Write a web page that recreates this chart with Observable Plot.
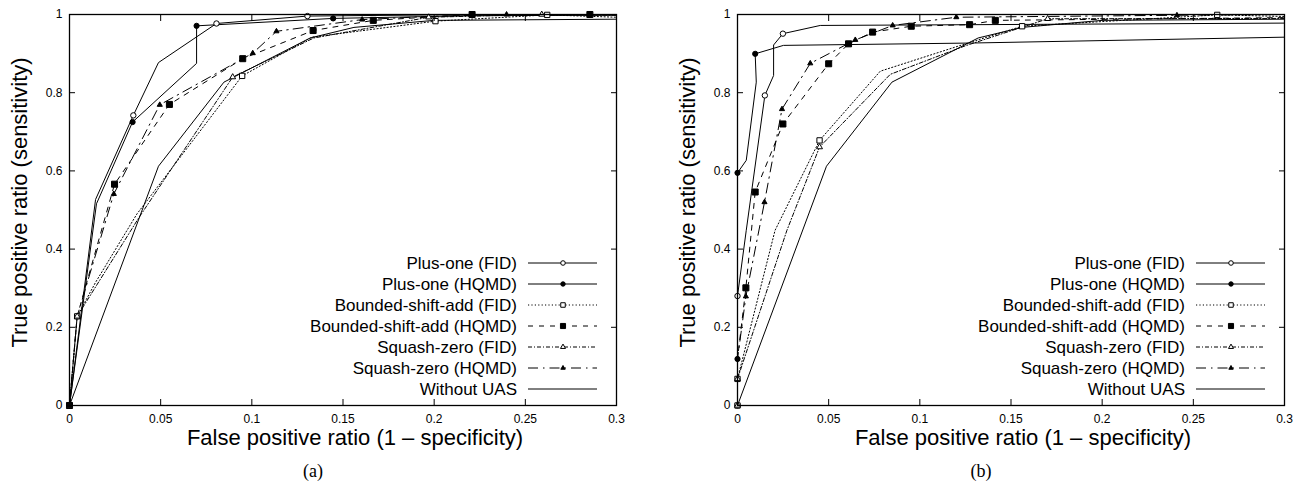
<!DOCTYPE html>
<html>
<head>
<meta charset="utf-8">
<script src="https://cdn.jsdelivr.net/npm/d3@7"></script>
<script src="https://cdn.jsdelivr.net/npm/@observablehq/plot@0.6"></script>
<style>
  body { margin: 0; background: #fff; }
  #wrap { display: flex; width: 1306px; height: 484px; overflow: hidden; }
  #wrap svg { display: block; }
</style>
</head>
<body>
<div id="wrap"></div>
<script>
// ---------- tick labels & text ----------
const xTicks = [0, 0.05, 0.1, 0.15, 0.2, 0.25, 0.3];
const xTickLabels = ["0", "0.05", "0.1", "0.15", "0.2", "0.25", "0.3"];
const yTicks = [0, 0.2, 0.4, 0.6, 0.8, 1];
const yTickLabels = ["0", "0.2", "0.4", "0.6", "0.8", "1"];
const xLabel = "False positive ratio (1 – specificity)";
const yLabel = "True positive ratio (sensitivity)";
const panelLabels = ["(a)", "(b)"];
const seriesNames = ["Plus-one (FID)", "Plus-one (HQMD)", "Bounded-shift-add (FID)",
  "Bounded-shift-add (HQMD)", "Squash-zero (FID)", "Squash-zero (HQMD)", "Without UAS"];

// ---------- baseline (same in both panels) ----------
const withoutUAS = [[0,0],[0.0488,0.612],[0.0847,0.827],[0.132,0.940],[0.156,0.967],[0.2,0.985],[0.3,0.988]];

// ---------- panel (a) ----------
const aPlusOneFIDLine = [[0,0],[0.0143,0.527],[0.035,0.742],[0.0488,0.877],[0.0806,0.977],[0.1305,0.996],[0.2,0.999],[0.3,1.0]];
const aPlusOneFIDPts  = [[0,0],[0.035,0.742],[0.0806,0.977],[0.1305,0.996]];
const aPlusOneHQMDLine = [[0,0],[0.0148,0.516],[0.0346,0.725],[0.0697,0.875],[0.0697,0.971],[0.1446,0.990],[0.22,0.997],[0.3,0.998]];
const aPlusOneHQMDPts  = [[0,0],[0.0346,0.725],[0.0697,0.971],[0.1446,0.990]];
const aBoundedFIDLine = [[0,0],[0.0042,0.228],[0.0143,0.315],[0.037,0.49],[0.0947,0.843],[0.133,0.942],[0.2007,0.983],[0.262,0.999],[0.3,0.993]];
const aBoundedFIDPts  = [[0,0],[0.0042,0.228],[0.0947,0.843],[0.2007,0.983],[0.262,0.999]];
const aBoundedHQMDLine = [[0,0],[0.0042,0.228],[0.0247,0.566],[0.0548,0.770],[0.095,0.887],[0.1336,0.959],[0.1666,0.985],[0.2208,1.0],[0.2854,1.0],[0.3,1.0]];
const aBoundedHQMDPts  = [[0,0],[0.0247,0.566],[0.0548,0.770],[0.095,0.887],[0.1336,0.959],[0.1666,0.985],[0.2208,1.0],[0.2854,1.0]];
const aSquashFIDLine = [[0,0],[0.0042,0.228],[0.0148,0.307],[0.038,0.48],[0.0895,0.84],[0.134,0.94],[0.197,0.993],[0.259,1.0],[0.3,0.998]];
const aSquashFIDPts  = [[0,0],[0.0042,0.228],[0.0895,0.84],[0.197,0.993],[0.259,1.0]];
const aSquashHQMDLine = [[0,0],[0.0042,0.228],[0.0243,0.541],[0.0495,0.769],[0.1005,0.901],[0.1135,0.957],[0.1605,0.987],[0.197,0.995],[0.2397,1.0],[0.3,1.0]];
const aSquashHQMDPts  = [[0,0],[0.0243,0.541],[0.0495,0.769],[0.1005,0.901],[0.1135,0.957],[0.1605,0.987],[0.2397,1.0]];

// ---------- panel (b) ----------
const bPlusOneFIDLine = [[0,0],[0,0.28],[0.0048,0.448],[0.015,0.793],[0.0198,0.844],[0.0198,0.922],[0.0249,0.951],[0.0454,0.972],[0.3,0.978]];
const bPlusOneFIDPts  = [[0,0],[0,0.28],[0.015,0.793],[0.0249,0.951]];
const bPlusOneHQMDLine = [[0,0],[0,0.119],[0,0.595],[0.0048,0.627],[0.0103,0.827],[0.0097,0.8995],[0.0252,0.921],[0.128,0.927],[0.3,0.942]];
const bPlusOneHQMDPts  = [[0,0.119],[0,0.595],[0.0097,0.8995]];
const bBoundedFIDLine = [[0,0],[0,0.068],[0.0206,0.448],[0.045,0.678],[0.0783,0.855],[0.125,0.925],[0.1561,0.970],[0.2631,0.999],[0.3,0.995]];
const bBoundedFIDPts  = [[0,0],[0,0.068],[0.045,0.678],[0.1561,0.970],[0.2631,0.999]];
const bBoundedHQMDLine = [[0,0],[0,0.119],[0.0046,0.301],[0.0097,0.546],[0.0249,0.720],[0.05,0.874],[0.0609,0.925],[0.0741,0.955],[0.0953,0.970],[0.1273,0.974],[0.1414,0.985],[0.3,0.992]];
const bBoundedHQMDPts  = [[0.0046,0.301],[0.0097,0.546],[0.0249,0.720],[0.05,0.874],[0.0609,0.925],[0.0741,0.955],[0.0953,0.970],[0.1273,0.974],[0.1414,0.985]];
const bSquashFIDLine = [[0,0],[0,0.068],[0.0271,0.448],[0.045,0.661],[0.0838,0.847],[0.125,0.920],[0.1701,0.989],[0.3,0.99]];
const bSquashFIDPts  = [[0,0],[0,0.068],[0.045,0.661],[0.1701,0.989]];
const bSquashHQMDLine = [[0,0],[0,0.119],[0.0046,0.279],[0.0148,0.52],[0.0244,0.758],[0.0399,0.875],[0.0646,0.935],[0.0851,0.972],[0.12,0.993],[0.241,0.998],[0.3,1.0]];
const bSquashHQMDPts  = [[0.0046,0.279],[0.0148,0.52],[0.0244,0.758],[0.0399,0.875],[0.0646,0.935],[0.0851,0.972],[0.12,0.993],[0.241,0.998]];

// ---------- styles (not data) ----------
const styles = [
  {dash: null,          symbol: "circle",   fill: "white", r: 2.7},
  {dash: null,          symbol: "circle",   fill: "black", r: 2.6},
  {dash: "1.2,2.2",     symbol: "square",   fill: "white", r: 3.0},
  {dash: "5,6",         symbol: "square",   fill: "black", r: 3.4},
  {dash: "4,2,1,2",     symbol: "triangle", fill: "white", r: 2.2},
  {dash: "10,5,1.5,5",  symbol: "triangle", fill: "black", r: 1.9},
  {dash: null,          symbol: null,       fill: null,    r: 0}
];
const FONT = "'Liberation Sans', Arial, Helvetica, sans-serif";

function makePanel(lines, pts, caption, marginLeft, marginRight) {
  const W = 653, H = 484, mt = 14, mb = 79;
  const marks = [];
  lines.forEach((L, i) => {
    marks.push(Plot.line(L, {x: d => d[0], y: d => d[1], stroke: "black", strokeWidth: 1,
      strokeDasharray: styles[i].dash || undefined, strokeLinejoin: "miter"}));
  });
  pts.forEach((P, i) => {
    if (!P || !styles[i].symbol) return;
    marks.push(Plot.dot(P, {x: d => d[0], y: d => d[1], symbol: styles[i].symbol, r: styles[i].r,
      fill: styles[i].fill, stroke: "black", strokeWidth: 1}));
  });
  const chart = Plot.plot({
    width: W, height: H,
    marginLeft, marginRight, marginTop: mt, marginBottom: mb,
    x: {domain: [0, 0.3]},
    y: {domain: [0, 1]},
    style: {fontFamily: FONT, fontSize: "12px", color: "black", background: "white", overflow: "visible"},
    marks: [
      ...marks,
      Plot.frame({stroke: "black", strokeWidth: 1.3}),
      Plot.axisX({anchor: "bottom", ticks: xTicks, tickSize: -6, tickPadding: 15,
        tickFormat: (d, i) => xTickLabels[xTicks.indexOf(d)], label: null, fontSize: 12}),
      Plot.axisX({anchor: "top", ticks: xTicks, tickSize: -6, tickFormat: () => "", label: null}),
      Plot.axisY({anchor: "left", ticks: yTicks, tickSize: -6, tickPadding: 13,
        tickFormat: (d) => yTickLabels[yTicks.indexOf(d)], label: null, fontSize: 12}),
      Plot.axisY({anchor: "right", ticks: yTicks, tickSize: -6, tickFormat: () => "", label: null}),
      Plot.text([yLabel], {frameAnchor: "left", rotate: -90, dx: -43, dy: -7.5, lineAnchor: "bottom",
        textAnchor: "middle", text: d => d, fontSize: 22, fill: "black"}),
      Plot.text([xLabel], {frameAnchor: "bottom", dx: 12, dy: 39, lineAnchor: "bottom",
        textAnchor: "middle", text: d => d, fontSize: 22, fill: "black"}),
      Plot.text([caption], {frameAnchor: "bottom", dx: -30, dy: 71, lineAnchor: "bottom",
        textAnchor: "middle", text: d => d, fontSize: 18,
        fontFamily: "'Liberation Serif', 'Times New Roman', serif", fill: "black"})
    ]
  });
  // legend (inside frame, bottom-right)
  const right = W - marginRight, bottom = H - mb;
  const g = d3.select(chart).append("g")
    .attr("font-family", FONT).attr("font-size", 17).attr("fill", "black");
  const symMap = {circle: d3.symbolCircle, square: d3.symbolSquare, triangle: d3.symbolTriangle};
  seriesNames.forEach((name, i) => {
    const y = bottom - 142 + i * 21;
    g.append("text").attr("x", right - 99).attr("y", y).attr("dy", "0.36em")
      .attr("text-anchor", "end").text(name);
    g.append("line").attr("x1", right - 88).attr("x2", right - 19).attr("y1", y).attr("y2", y)
      .attr("stroke", "black").attr("stroke-width", 1)
      .attr("stroke-dasharray", styles[i].dash || null);
    if (styles[i].symbol) {
      const rr = styles[i].r * 0.85;
      g.append("path").attr("d", d3.symbol(symMap[styles[i].symbol], Math.PI * rr * rr)())
        .attr("transform", `translate(${right - 53},${y})`)
        .attr("fill", styles[i].fill).attr("stroke", "black").attr("stroke-width", 1);
    }
  });
  return chart;
}

const wrap = document.getElementById("wrap");
wrap.appendChild(makePanel(
  [aPlusOneFIDLine, aPlusOneHQMDLine, aBoundedFIDLine, aBoundedHQMDLine, aSquashFIDLine, aSquashHQMDLine, withoutUAS],
  [aPlusOneFIDPts, aPlusOneHQMDPts, aBoundedFIDPts, aBoundedHQMDPts, aSquashFIDPts, aSquashHQMDPts, null],
  panelLabels[0], 69, 37));
wrap.appendChild(makePanel(
  [bPlusOneFIDLine, bPlusOneHQMDLine, bBoundedFIDLine, bBoundedHQMDLine, bSquashFIDLine, bSquashHQMDLine, withoutUAS],
  [bPlusOneFIDPts, bPlusOneHQMDPts, bBoundedFIDPts, bBoundedHQMDPts, bSquashFIDPts, bSquashHQMDPts, null],
  panelLabels[1], 84, 22));
</script>
</body>
</html>
